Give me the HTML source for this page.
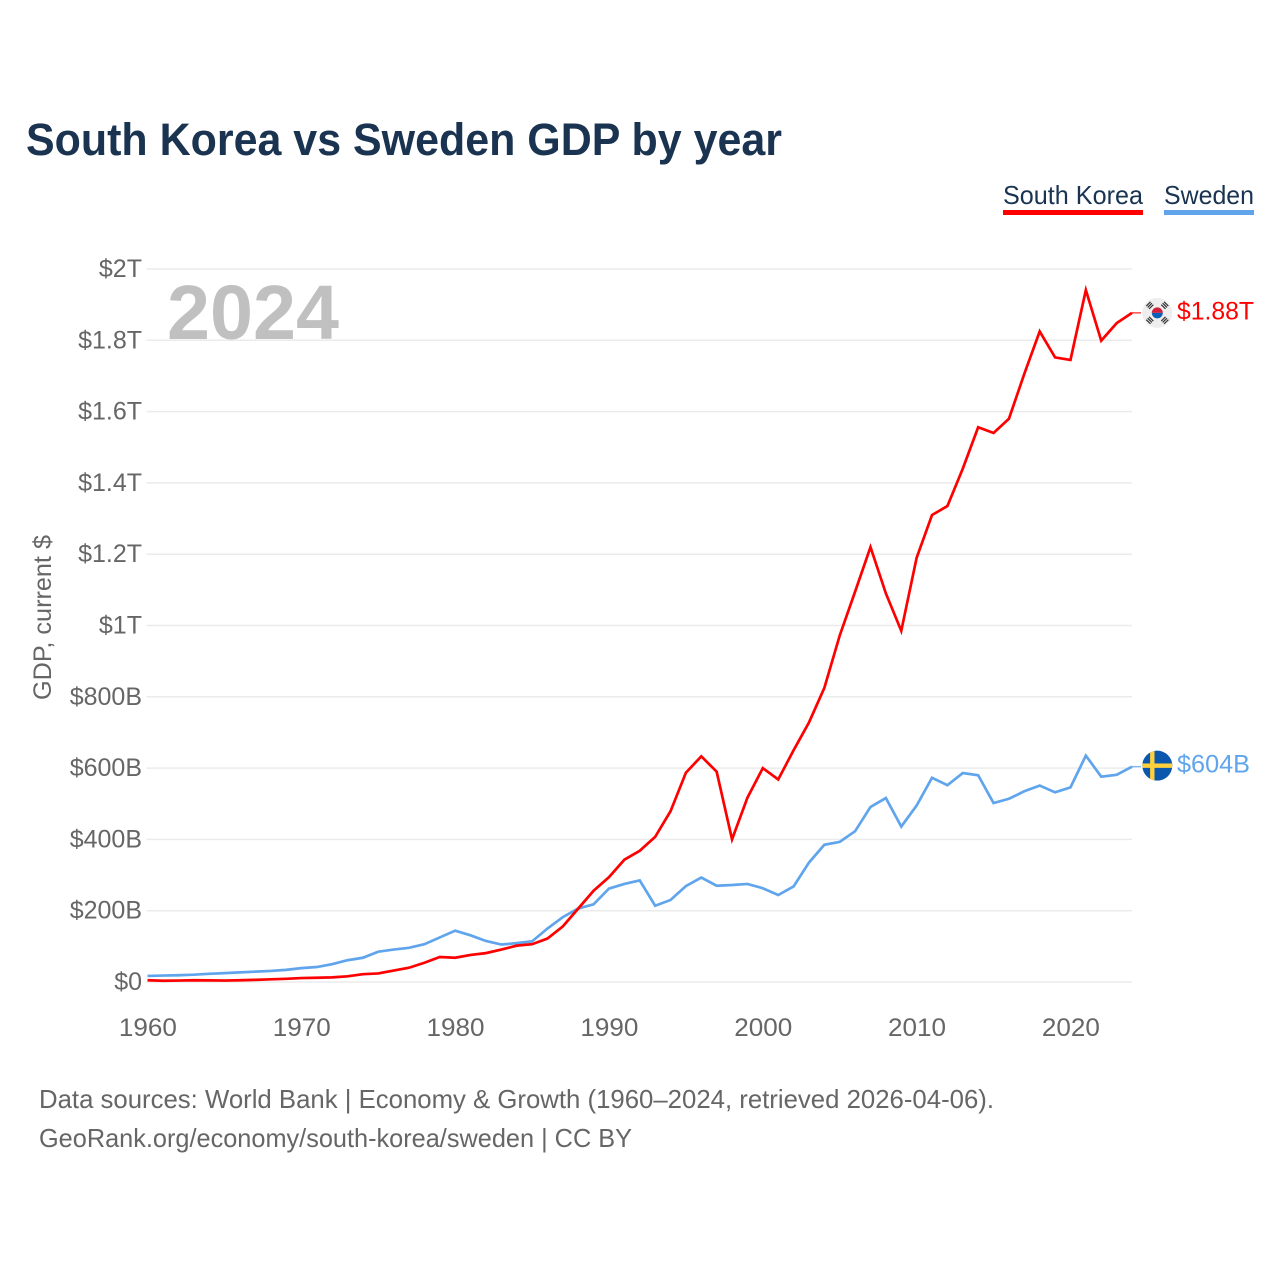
<!DOCTYPE html>
<html lang="en">
<head>
<meta charset="utf-8">
<title>South Korea vs Sweden GDP by year</title>
<style>
  html, body { margin: 0; padding: 0; background: #fff; }
  svg { display: block; }
  text { font-family: "Liberation Sans", sans-serif; }
</style>
</head>
<body>
<svg id="chart" xmlns="http://www.w3.org/2000/svg" width="1280" height="1280" viewBox="0 0 1280 1280">
  <rect x="0" y="0" width="1280" height="1280" fill="#ffffff"/>
  <text x="26" y="155" font-size="45" font-weight="700" fill="#1a3350" textLength="756" lengthAdjust="spacingAndGlyphs">South Korea vs Sweden GDP by year</text>
  <g>
    <text x="1003" y="204" font-size="26" fill="#1a3350" textLength="140" lengthAdjust="spacingAndGlyphs">South Korea</text>
    <rect x="1003" y="210" width="140" height="5" fill="#ff0000"/>
  </g>
  <g>
    <text x="1164" y="204" font-size="26" fill="#1a3350" textLength="90" lengthAdjust="spacingAndGlyphs">Sweden</text>
    <rect x="1164" y="210" width="90" height="5" fill="#60a5ec"/>
  </g>
  <g id="grid"></g>
  <g id="y-axis"></g>
  <g id="x-axis"></g>
  <text transform="translate(51,700) rotate(-90)" font-size="25" fill="#666666" textLength="165" lengthAdjust="spacingAndGlyphs">GDP, current $</text>
  <text x="167" y="339" font-size="77" font-weight="700" fill="#c0c0c0" textLength="172" lengthAdjust="spacingAndGlyphs">2024</text>
  <g id="series"></g>
  <g id="endpoints"></g>
  <text x="39" y="1108" font-size="26" fill="#666666" textLength="955" lengthAdjust="spacingAndGlyphs">Data sources: World Bank | Economy &amp; Growth (1960–2024, retrieved 2026-04-06).</text>
  <text x="39" y="1147" font-size="26" fill="#666666" textLength="593" lengthAdjust="spacingAndGlyphs">GeoRank.org/economy/south-korea/sweden | CC BY</text>
</svg>
<script>
// Data in billions of current US dollars, one value per year
const years = [1960,1961,1962,1963,1964,1965,1966,1967,1968,1969,1970,1971,1972,1973,1974,1975,1976,1977,1978,1979,1980,1981,1982,1983,1984,1985,1986,1987,1988,1989,1990,1991,1992,1993,1994,1995,1996,1997,1998,1999,2000,2001,2002,2003,2004,2005,2006,2007,2008,2009,2010,2011,2012,2013,2014,2015,2016,2017,2018,2019,2020,2021,2022,2023,2024];
const southKorea = [5,3.5,4,5,4.5,4,5,6,7.5,9,11,12,13,16,22,24,32,40,54,70,68,76,81,91,102,106,122,156,206,256,294,343,368,407,479,587,633,590,400,517,600,568,650,728,825,972,1095,1220,1090,985,1190,1310,1335,1440,1556,1540,1580,1706,1825,1752,1745,1941,1799,1848,1877];
const sweden = [17,18,19,20.5,23,25,27,29,31,34,39,42,50,61,68,85,91,96,106,125,144,131,115,105,109,114,150,182,206,218,262,275,285,214,230,269,293,270,272,275,263,244,268,335,385,393,423,491,516,436,495,573,552,586,580,502,514,535,551,532,546,635,576,581,604];
const yTickValues = [0,200,400,600,800,1000,1200,1400,1600,1800,2000];
const yTickLabels = ["$0","$200B","$400B","$600B","$800B","$1T","$1.2T","$1.4T","$1.6T","$1.8T","$2T"];
const xTickValues = [1960,1970,1980,1990,2000,2010,2020];
const xTickLabels = ["1960","1970","1980","1990","2000","2010","2020"];
const endLabelKorea = "$1.88T";
const endLabelSweden = "$604B";

const SVG_NS = "http://www.w3.org/2000/svg";
const X0 = 147.5, X1 = 1132, Y0 = 982, Y1 = 269;
function xScale(year) { return X0 + (year - 1960) * (X1 - X0) / (2024 - 1960); }
function yScale(v) { return Y0 - v * (Y0 - Y1) / 2000; }
function make(tag, attrs, parent) {
  const el = document.createElementNS(SVG_NS, tag);
  for (const k in attrs) el.setAttribute(k, attrs[k]);
  parent.appendChild(el);
  return el;
}

const gridG = document.getElementById("grid");
const yG = document.getElementById("y-axis");
const xG = document.getElementById("x-axis");
const seriesG = document.getElementById("series");
const endG = document.getElementById("endpoints");

yTickValues.forEach(function (v, i) {
  const line = make("line", {x1: X0 - 1, x2: X1, y1: yScale(v), y2: yScale(v), stroke: "#ebebeb", "stroke-width": 1.5}, gridG);
  
  
  const t = make("text", {x: 142, y: yScale(v) + 8, "text-anchor": "end", "font-size": 25, fill: "#666666"}, yG);
  
  
  t.textContent = yTickLabels[i];
});

xTickValues.forEach(function (yr, i) {
  const t = make("text", {x: xScale(yr) + 0.4, y: 1036, "text-anchor": "middle", "font-size": 25, fill: "#666666", textLength: 58, lengthAdjust: "spacingAndGlyphs"}, xG);
  
  
  t.textContent = xTickLabels[i];
});

function pathFor(values) {
  return values.map(function (v, i) {
    return (i ? "L" : "M") + xScale(years[i]).toFixed(2) + " " + yScale(v).toFixed(2);
  }).join(" ");
}
const blueLine = make("path", {d: pathFor(sweden), fill: "none", stroke: "#60a5ec", "stroke-width": 2.7, "stroke-linejoin": "miter"}, seriesG);


const redLine = make("path", {d: pathFor(southKorea), fill: "none", stroke: "#ff0000", "stroke-width": 2.7, "stroke-linejoin": "miter"}, seriesG);



const lastKorea = yScale(southKorea[southKorea.length - 1]);
const lastSweden = yScale(sweden[sweden.length - 1]);

const connK = make("line", {x1: X1, x2: 1141, y1: lastKorea, y2: lastKorea, stroke: "#ff0000", "stroke-width": 1.5, opacity: 0.7}, endG);


const connS = make("line", {x1: X1, x2: 1141, y1: lastSweden, y2: lastSweden, stroke: "#60a5ec", "stroke-width": 1.5, opacity: 0.8}, endG);



// South Korea flag badge
const kr = make("g", {transform: "translate(1157.3," + lastKorea + ")"}, endG);


make("circle", {r: 15, fill: "#eeeeee"}, kr);
make("path", {d: "M-5.5 0A5.5 5.5 0 0 1 5.5 0Z", fill: "#d3203a"}, kr);
make("path", {d: "M-5.5 0A5.5 5.5 0 0 0 5.5 0Z", fill: "#0b5fb8"}, kr);
[[-7.5,-7.5,-45],[7.5,-7.5,45],[-7.5,7.5,45],[7.5,7.5,-45]].forEach(function (p) {
  const tri = make("g", {transform: "translate(" + p[0] + "," + p[1] + ") rotate(" + p[2] + ")"}, kr);
  make("rect", {x: -3, y: -2.6, width: 6, height: 1.2, fill: "#333"}, tri);
  make("rect", {x: -3, y: -0.6, width: 6, height: 1.2, fill: "#333"}, tri);
  make("rect", {x: -3, y: 1.4, width: 6, height: 1.2, fill: "#333"}, tri);
});

// Sweden flag badge
const se = make("g", {transform: "translate(1157.3," + (lastSweden - 1) + ")"}, endG);


const clip = make("clipPath", {id: "se-clip"}, se);
make("circle", {r: 15}, clip);
make("circle", {r: 15, fill: "#0b57ad"}, se);
make("rect", {x: -15, y: -2.2, width: 30, height: 4.4, fill: "#fdd03c", "clip-path": "url(#se-clip)"}, se);
make("rect", {x: -7.2, y: -15, width: 4.4, height: 30, fill: "#fdd03c", "clip-path": "url(#se-clip)"}, se);

const valK = make("text", {x: 1177, y: lastKorea + 6.5, "font-size": 25, fill: "#ff0000", textLength: 77, lengthAdjust: "spacingAndGlyphs"}, endG);


valK.textContent = endLabelKorea;
const valS = make("text", {x: 1177, y: lastSweden + 6, "font-size": 25, fill: "#60a5ec", textLength: 73, lengthAdjust: "spacingAndGlyphs"}, endG);


valS.textContent = endLabelSweden;
</script>
</body>
</html>
